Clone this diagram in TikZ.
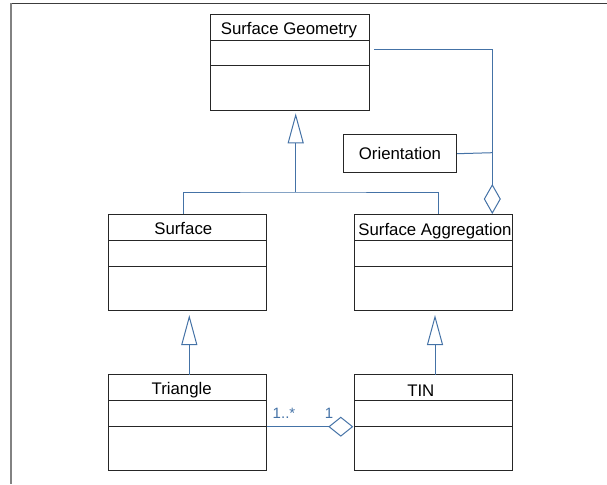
\documentclass[tikz,border=0pt]{standalone}
\usepackage{fontspec}
\setmainfont{Liberation Sans}
\usetikzlibrary{arrows.meta}
\definecolor{umlblue}{RGB}{68,114,166}
\definecolor{framedark}{RGB}{60,60,60}
\definecolor{framegray}{RGB}{130,130,130}
\tikzset{
  classbox/.style={draw=black!85, line width=1pt, rectangle, inner sep=0pt, minimum width=158.7pt, minimum height=96pt},
  compline/.style={draw=black!85, line width=1pt},
  classname/.style={anchor=base, inner sep=0pt, font=\fontsize{16.8pt}{20pt}\selectfont},
  plainbox/.style={draw=black!85, line width=1pt, rectangle, inner sep=0pt, minimum width=113.4pt, minimum height=38pt, font=\fontsize{16.8pt}{20pt}\selectfont},
  conn/.style={draw=umlblue, line width=1pt},
  genarrow/.style={conn, -{Triangle[open, length=30pt, width=16pt, line width=1pt]}},
  aggarrow/.style={conn, -{Diamond[open, length=30pt, width=17pt, line width=1pt]}},
  aggarrowsmall/.style={conn, -{Diamond[open, length=25pt, width=20pt, line width=1pt]}},
  multlabel/.style={anchor=base, inner sep=0pt, text=umlblue, font=\fontsize{15pt}{18pt}\selectfont},
}
\begin{document}
\begin{tikzpicture}[x=1pt, y=-1pt]
\useasboundingbox (0,0) rectangle (607,484);
% frame
\draw[framedark, line width=1.3pt] (10,3.3) -- (607,3.3);
\draw[framegray, line width=2pt] (10.7,3.3) -- (10.7,484);

% classes
\node[classbox] (sg) at (290.1,63) {};
\draw[compline] (210.75,40.7) -- (369.45,40.7);
\draw[compline] (210.75,66) -- (369.45,66);
\node[classname] (sgt) at (289,34.3) {Surface Geometry};

\node[classbox] (surf) at (187.35,262.5) {};
\draw[compline] (108,240.3) -- (266.7,240.3);
\draw[compline] (108,266) -- (266.7,266);
\node[classname] (surft) at (183.3,234.5) {Surface};

\node[classbox] (sa) at (433.35,262.5) {};
\draw[compline] (354,240.3) -- (512.7,240.3);
\draw[compline] (354,266) -- (512.7,266);
\node[classname] (sat) at (435,235) {Surface Aggregation};

\node[classbox] (tri) at (187.35,422.7) {};
\draw[compline] (108,400) -- (266.7,400);
\draw[compline] (108,426) -- (266.7,426);
\node[classname] (trit) at (181.7,394.3) {Triangle};

\node[classbox] (tin) at (433.35,422.7) {};
\draw[compline] (354,400) -- (512.7,400);
\draw[compline] (354,426) -- (512.7,426);
\node[classname] (tint) at (420.8,396) {TIN};

\node[plainbox] (orient) at (400,153.7) {Orientation};

% anchor coordinates
\coordinate (sgbot) at (295.7,113.3);
\coordinate (jn) at (295.7,192);
\coordinate (surftop) at (183.7,214);
\coordinate (satop) at (438.3,214);
\coordinate (sgstart) at (374,50);
\coordinate (aggtip) at (492.3,214);
\coordinate (orientjoin) at (492.3,152.7);
\coordinate (surfbot) at (189.3,315);
\coordinate (tritop) at (189.3,374.7);
\coordinate (sabot) at (435,315);
\coordinate (tintop) at (435,374.7);
\coordinate (triright) at (266.7,426.7);
\coordinate (tinleft) at (353.3,426.7);

% generalizations
\draw[conn] (surftop) |- (jn) -| (satop);
\draw[genarrow] (jn) -- (sgbot);
\draw[genarrow] (tritop) -- (surfbot);
\draw[genarrow] (tintop) -- (sabot);

% aggregations
\draw[aggarrow] (sgstart) -| (aggtip);
\draw[conn] (orient.east) -- (orientjoin);
\draw[aggarrowsmall] (triright) -- (tinleft);

% multiplicities
\node[multlabel] (m1) at (284,418.3) {1..*};
\node[multlabel] (m2) at (329,418.3) {1};
\end{tikzpicture}
\end{document}
